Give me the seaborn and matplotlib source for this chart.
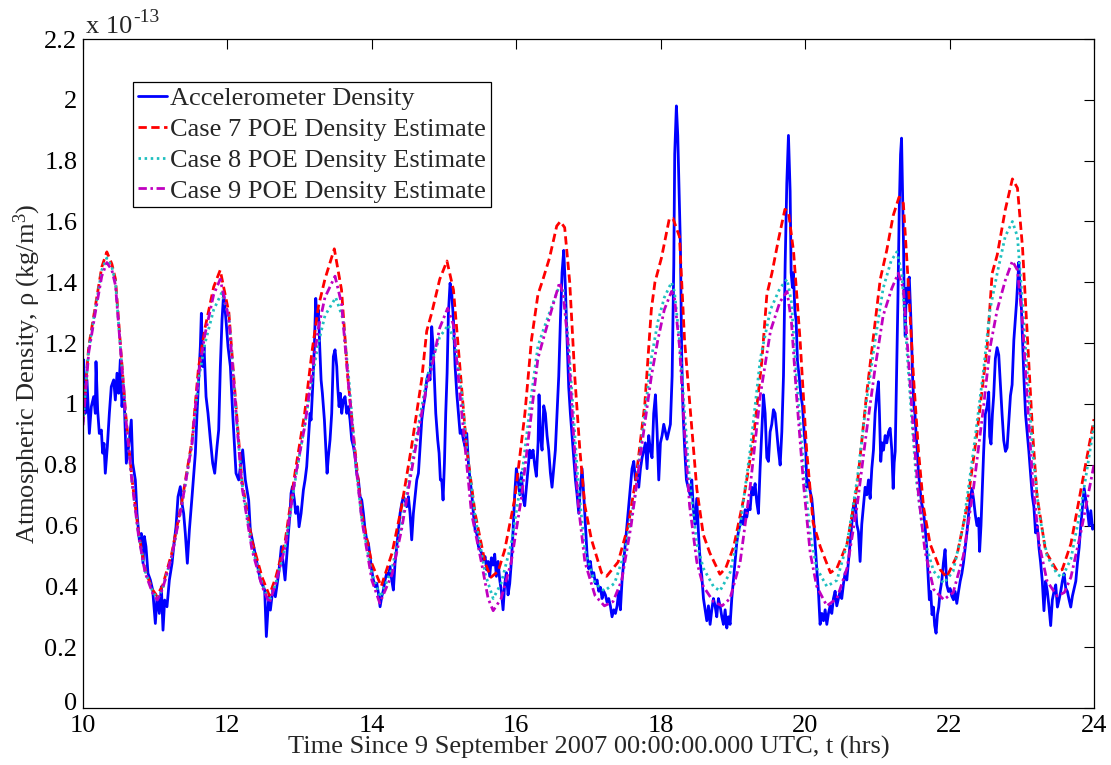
import matplotlib
matplotlib.use("Agg")
import matplotlib.pyplot as plt
import matplotlib.transforms as mtransforms
import pandas as pd
import seaborn as sns
from matplotlib.ticker import FuncFormatter

# Density values are in units of 1e-13 kg/m^3, time in hours since 9 Sep 2007 00:00 UTC.

# Accelerometer-derived density (time, density)
accel_pts = [
    (10.000, 1.06), (10.009, 1.145), (10.032, 0.969), (10.055, 1.079), (10.088, 0.903),
    (10.115, 0.991), (10.148, 1.024), (10.171, 0.969), (10.180, 1.139), (10.203, 0.98),
    (10.226, 0.903), (10.254, 0.914), (10.272, 0.838), (10.291, 0.87), (10.309, 0.772),
    (10.337, 0.86), (10.365, 0.969), (10.392, 1.057), (10.425, 1.079), (10.448, 1.013),
    (10.471, 1.101), (10.494, 1.035), (10.517, 1.145), (10.540, 0.991), (10.563, 1.057),
    (10.577, 0.969), (10.600, 0.805), (10.632, 0.86), (10.669, 0.947), (10.688, 0.805),
    (10.725, 0.75), (10.748, 0.64), (10.780, 0.553), (10.808, 0.574), (10.831, 0.476),
    (10.850, 0.564), (10.872, 0.531), (10.900, 0.443), (10.933, 0.421), (10.965, 0.388),
    (11.002, 0.278), (11.025, 0.366), (11.057, 0.311), (11.085, 0.399), (11.108, 0.256),
    (11.131, 0.355), (11.163, 0.333), (11.196, 0.421), (11.233, 0.476), (11.256, 0.531),
    (11.288, 0.596), (11.316, 0.695), (11.348, 0.728), (11.371, 0.673), (11.394, 0.64),
    (11.417, 0.574), (11.445, 0.476), (11.473, 0.585), (11.510, 0.695), (11.556, 0.838),
    (11.579, 0.969), (11.602, 1.079), (11.625, 1.189), (11.639, 1.298), (11.657, 1.123),
    (11.676, 1.189), (11.704, 1.024), (11.731, 0.969), (11.764, 0.882), (11.796, 0.805),
    (11.824, 0.772), (11.856, 0.86), (11.879, 0.914), (11.902, 1.123), (11.925, 1.276),
    (11.948, 1.364), (11.980, 1.276), (12.008, 1.189), (12.041, 1.123), (12.073, 0.969),
    (12.119, 0.772), (12.156, 0.75), (12.211, 0.849), (12.248, 0.75), (12.294, 0.684),
    (12.317, 0.585), (12.364, 0.531), (12.410, 0.476), (12.456, 0.421), (12.516, 0.388),
    (12.539, 0.235), (12.572, 0.366), (12.595, 0.322), (12.627, 0.388), (12.664, 0.366),
    (12.710, 0.443), (12.747, 0.531),
    (12.798, 0.421), (12.821, 0.498), (12.844, 0.574), (12.867, 0.64), (12.881, 0.706),
    (12.900, 0.728), (12.927, 0.684), (12.946, 0.64), (12.973, 0.662), (12.992, 0.596),
    (13.020, 0.64), (13.052, 0.717), (13.075, 0.75), (13.098, 0.794), (13.121, 0.882),
    (13.144, 0.969), (13.158, 0.947), (13.181, 1.057), (13.204, 1.189), (13.223, 1.347),
    (13.241, 1.276), (13.260, 1.309), (13.278, 1.189), (13.297, 1.079), (13.315, 1.035),
    (13.343, 0.947), (13.361, 0.86), (13.380, 0.772), (13.398, 0.827), (13.421, 0.882),
    (13.444, 0.969), (13.467, 1.156), (13.490, 1.178), (13.514, 1.123), (13.527, 1.057),
    (13.546, 0.991), (13.564, 1.035), (13.583, 0.969), (13.606, 1.013), (13.629, 1.024),
    (13.652, 0.969), (13.675, 0.991), (13.698, 0.947), (13.721, 0.882), (13.745, 0.86),
    (13.768, 0.827), (13.791, 0.772), (13.814, 0.75), (13.837, 0.695), (13.860, 0.684),
    (13.883, 0.64), (13.906, 0.585), (13.929, 0.553), (13.952, 0.542), (13.975, 0.498),
    (13.998, 0.454), (14.021, 0.421), (14.045, 0.399), (14.068, 0.41), (14.091, 0.377),
    (14.114, 0.333), (14.137, 0.366), (14.160, 0.388), (14.183, 0.421), (14.206, 0.443),
    (14.229, 0.432), (14.252, 0.465), (14.275, 0.421), (14.298, 0.388), (14.321, 0.476),
    (14.345, 0.531), (14.368, 0.585), (14.391, 0.64), (14.414, 0.673), (14.437, 0.695),
    (14.460, 0.684), (14.483, 0.662), (14.506, 0.695), (14.529, 0.64), (14.552, 0.553),
    (14.575, 0.64), (14.598, 0.695), (14.622, 0.75), (14.645, 0.772), (14.668, 0.86),
    (14.691, 0.947), (14.714, 0.991), (14.737, 1.024), (14.760, 1.079), (14.783, 1.101),
    (14.806, 1.079), (14.829, 1.254), (14.848, 1.189), (14.866, 1.079), (14.885, 0.969),
    (14.912, 0.882), (14.931, 0.838), (14.949, 0.75), (14.968, 0.75), (14.986, 0.684),
    (15.005, 0.805), (15.023, 0.969), (15.042, 1.101), (15.060, 1.298), (15.083, 1.397),
    (15.106, 1.364), (15.130, 1.276), (15.153, 1.123), (15.176, 1.035), (15.199, 0.969),
    (15.222, 0.903), (15.245, 0.914), (15.268, 0.882), (15.291, 0.86), (15.314, 0.903),
    (15.337, 0.805), (15.360, 0.75), (15.383, 0.706), (15.406, 0.64), (15.430, 0.585),
    (15.453, 0.574), (15.476, 0.531), (15.499, 0.52), (15.522, 0.509), (15.545, 0.487),
    (15.568, 0.498), (15.591, 0.454),
    (15.609, 0.482), (15.632, 0.433), (15.655, 0.494), (15.678, 0.47), (15.701, 0.506),
    (15.724, 0.433), (15.748, 0.482), (15.771, 0.421), (15.794, 0.384), (15.817, 0.323),
    (15.840, 0.409), (15.863, 0.445), (15.886, 0.372), (15.909, 0.409), (15.932, 0.482),
    (15.955, 0.58), (15.978, 0.701), (16.001, 0.787), (16.025, 0.75), (16.048, 0.701),
    (16.071, 0.774), (16.094, 0.689), (16.117, 0.665), (16.140, 0.726), (16.163, 0.787),
    (16.186, 0.848), (16.209, 0.823), (16.232, 0.848), (16.255, 0.799), (16.278, 0.762),
    (16.302, 0.872), (16.315, 1.03), (16.334, 0.896), (16.357, 0.848), (16.380, 0.994),
    (16.403, 0.969), (16.426, 0.896), (16.449, 0.848), (16.472, 0.774), (16.495, 0.726),
    (16.518, 0.787), (16.541, 0.848), (16.565, 0.969), (16.588, 1.091), (16.611, 1.274),
    (16.634, 1.432), (16.657, 1.505), (16.680, 1.383), (16.703, 1.213), (16.726, 1.055),
    (16.749, 0.969), (16.772, 0.896), (16.796, 0.823), (16.819, 0.75), (16.842, 0.701),
    (16.865, 0.64), (16.888, 0.726), (16.911, 0.787), (16.934, 0.701), (16.957, 0.604),
    (16.980, 0.506), (17.003, 0.458), (17.026, 0.482), (17.049, 0.433), (17.073, 0.445),
    (17.096, 0.409), (17.119, 0.421), (17.142, 0.384), (17.165, 0.397), (17.188, 0.36),
    (17.211, 0.384), (17.234, 0.372), (17.257, 0.348), (17.280, 0.36), (17.303, 0.336),
    (17.326, 0.30), (17.350, 0.323), (17.373, 0.311), (17.396, 0.336), (17.419, 0.384),
    (17.442, 0.323), (17.465, 0.421), (17.488, 0.482), (17.511, 0.543), (17.534, 0.604),
    (17.557, 0.665), (17.580, 0.726), (17.603, 0.787), (17.627, 0.811), (17.650, 0.75),
    (17.673, 0.774), (17.696, 0.726), (17.719, 0.787), (17.742, 0.823), (17.765, 0.848),
    (17.788, 0.872), (17.811, 0.787), (17.834, 0.896), (17.857, 0.848), (17.880, 0.823),
    (17.903, 0.969), (17.927, 1.03), (17.950, 0.908), (17.973, 0.75), (17.996, 0.872),
    (18.019, 0.896), (18.042, 0.933), (18.065, 0.908), (18.088, 0.884), (18.111, 0.908),
    (18.134, 0.933), (18.158, 1.091), (18.181, 1.457), (18.194, 1.822), (18.217, 1.98),
    (18.236, 1.883), (18.254, 1.70), (18.273, 1.517), (18.291, 1.152), (18.310, 0.969),
    (18.333, 0.848), (18.356, 0.75), (18.379, 0.726),
    (18.407, 0.701), (18.430, 0.75), (18.453, 0.652), (18.476, 0.604), (18.499, 0.689),
    (18.522, 0.58), (18.546, 0.482), (18.569, 0.433), (18.592, 0.36), (18.615, 0.323),
    (18.638, 0.287), (18.661, 0.336), (18.684, 0.275), (18.707, 0.323), (18.730, 0.36),
    (18.753, 0.336), (18.776, 0.30), (18.799, 0.36), (18.822, 0.336), (18.846, 0.30),
    (18.869, 0.275), (18.892, 0.323), (18.915, 0.263), (18.938, 0.30), (18.961, 0.275),
    (18.984, 0.36), (19.007, 0.421), (19.030, 0.482), (19.053, 0.543), (19.076, 0.58),
    (19.100, 0.604), (19.123, 0.628), (19.146, 0.604), (19.169, 0.652), (19.192, 0.628),
    (19.215, 0.665), (19.238, 0.652), (19.261, 0.726), (19.284, 0.701), (19.307, 0.738),
    (19.330, 0.677), (19.353, 0.64), (19.376, 0.787), (19.400, 0.908), (19.423, 1.03),
    (19.446, 0.969), (19.469, 0.823), (19.492, 0.811), (19.515, 0.908), (19.538, 0.933),
    (19.561, 0.981), (19.584, 0.969), (19.607, 0.908), (19.630, 0.848), (19.654, 0.799),
    (19.677, 0.908), (19.700, 1.091), (19.723, 1.457), (19.746, 1.725), (19.769, 1.883),
    (19.792, 1.70), (19.806, 1.432), (19.824, 1.383), (19.838, 1.432), (19.857, 1.31),
    (19.875, 1.274), (19.894, 1.14), (19.917, 1.091), (19.940, 1.03), (19.963, 0.994),
    (19.986, 0.908), (20.009, 0.848), (20.023, 0.726), (20.046, 0.75), (20.069, 0.713),
    (20.092, 0.689), (20.115, 0.628), (20.138, 0.543), (20.161, 0.458), (20.184, 0.384),
    (20.207, 0.275), (20.231, 0.311), (20.254, 0.287), (20.277, 0.323), (20.300, 0.275),
    (20.323, 0.311), (20.346, 0.336), (20.369, 0.311), (20.392, 0.36), (20.415, 0.384),
    (20.438, 0.336), (20.461, 0.36), (20.484, 0.384), (20.507, 0.36), (20.531, 0.409),
    (20.554, 0.445), (20.577, 0.421), (20.600, 0.482), (20.623, 0.543), (20.646, 0.604),
    (20.669, 0.665), (20.692, 0.689), (20.715, 0.604), (20.738, 0.58), (20.761, 0.482),
    (20.784, 0.604), (20.808, 0.665), (20.831, 0.726), (20.854, 0.701), (20.877, 0.75),
    (20.900, 0.689), (20.923, 0.787), (20.946, 0.848), (20.969, 0.969), (20.992, 1.03),
    (21.015, 1.073), (21.029, 0.969), (21.047, 0.811), (21.066, 0.872), (21.085, 0.848),
    (21.108, 0.896), (21.131, 0.872), (21.154, 0.908), (21.177, 0.92), (21.200, 0.848),
    (21.219, 0.722), (21.233, 0.807), (21.247, 0.844), (21.265, 1.088), (21.284, 1.332),
    (21.303, 1.637), (21.321, 1.82), (21.335, 1.874), (21.349, 1.698), (21.363, 1.515),
    (21.372, 1.332), (21.386, 1.222), (21.400, 1.38), (21.414, 1.332), (21.428, 1.405),
    (21.442, 1.417), (21.460, 1.307), (21.474, 1.21), (21.488, 1.088), (21.507, 0.99),
    (21.521, 0.966), (21.535, 0.905), (21.553, 0.844), (21.567, 0.783), (21.590, 0.722),
    (21.613, 0.673), (21.637, 0.649), (21.660, 0.6), (21.683, 0.527), (21.706, 0.417),
    (21.720, 0.356), (21.739, 0.383), (21.757, 0.307), (21.776, 0.332), (21.794, 0.271),
    (21.813, 0.246), (21.832, 0.307), (21.850, 0.332), (21.869, 0.383), (21.892, 0.417),
    (21.915, 0.478), (21.938, 0.521), (21.961, 0.405), (21.985, 0.383), (22.008, 0.393),
    (22.031, 0.368), (22.054, 0.356), (22.077, 0.383), (22.100, 0.344), (22.124, 0.383),
    (22.147, 0.417), (22.170, 0.442), (22.193, 0.478), (22.217, 0.527), (22.240, 0.576),
    (22.263, 0.636), (22.286, 0.685), (22.310, 0.722), (22.333, 0.685), (22.356, 0.636),
    (22.379, 0.6), (22.402, 0.624), (22.416, 0.515), (22.435, 0.6), (22.453, 0.722),
    (22.472, 0.844), (22.495, 0.966), (22.518, 0.99), (22.542, 1.039), (22.555, 0.893),
    (22.574, 0.868), (22.593, 0.966), (22.611, 1.027), (22.634, 1.149), (22.658, 1.185),
    (22.681, 1.161), (22.704, 1.063), (22.727, 0.966), (22.750, 0.88), (22.774, 0.844),
    (22.797, 0.856), (22.820, 0.941), (22.843, 1.027), (22.866, 1.063), (22.890, 1.21),
    (22.913, 1.283), (22.927, 1.332), (22.945, 1.405), (22.959, 1.466), (22.973, 1.393),
    (22.992, 1.332), (23.010, 1.21), (23.029, 1.088), (23.052, 0.966), (23.075, 0.905),
    (23.098, 0.844), (23.122, 0.771), (23.145, 0.698), (23.168, 0.661), (23.191, 0.576),
    (23.214, 0.6), (23.238, 0.527), (23.261, 0.478), (23.284, 0.417), (23.307, 0.32),
    (23.330, 0.417), (23.354, 0.383), (23.377, 0.332), (23.400, 0.271), (23.423, 0.356),
    (23.446, 0.383), (23.470, 0.405), (23.493, 0.332), (23.516, 0.356), (23.539, 0.383),
    (23.562, 0.417), (23.586, 0.442), (23.609, 0.393), (23.632, 0.383), (23.655, 0.356),
    (23.678, 0.332), (23.701, 0.368), (23.725, 0.393), (23.748, 0.417), (23.771, 0.478),
    (23.794, 0.527), (23.817, 0.6), (23.840, 0.661), (23.864, 0.722), (23.887, 0.685),
    (23.910, 0.649), (23.933, 0.6), (23.956, 0.649), (23.980, 0.588), (24.000, 0.6),
]

# POE density estimates (time, density)
case7_pts = [
    (10.00, 0.95), (10.08, 1.19), (10.17, 1.32), (10.26, 1.45), (10.33, 1.50), (10.40, 1.46),
    (10.45, 1.41), (10.52, 1.19), (10.59, 0.97), (10.68, 0.75), (10.77, 0.575), (10.86, 0.454),
    (10.96, 0.39), (11.02, 0.37), (11.10, 0.40), (11.23, 0.51), (11.37, 0.68), (11.51, 0.88),
    (11.60, 1.12), (11.69, 1.25), (11.81, 1.385), (11.90, 1.44), (12.02, 1.30), (12.11, 1.02),
    (12.20, 0.75), (12.34, 0.55), (12.48, 0.43), (12.58, 0.37), (12.67, 0.43), (12.80, 0.55),
    (12.94, 0.78), (13.07, 0.97), (13.17, 1.17), (13.26, 1.32), (13.35, 1.41), (13.48, 1.51),
    (13.58, 1.375), (13.67, 1.08), (13.77, 0.84), (13.86, 0.64), (14.00, 0.475), (14.13, 0.40),
    (14.28, 0.51), (14.41, 0.66), (14.55, 0.86), (14.69, 1.08), (14.76, 1.24), (14.83, 1.30),
    (14.94, 1.41), (15.04, 1.47), (15.13, 1.375), (15.22, 1.12), (15.31, 0.86), (15.43, 0.64),
    (15.57, 0.475), (15.65, 0.43), (15.75, 0.45), (15.84, 0.52), (15.98, 0.69), (16.12, 0.97),
    (16.21, 1.21), (16.30, 1.36), (16.37, 1.41), (16.46, 1.48), (16.56, 1.585), (16.61, 1.60),
    (16.67, 1.58), (16.74, 1.40), (16.81, 1.09), (16.88, 0.85), (16.95, 0.665), (17.04, 0.555),
    (17.18, 0.445), (17.25, 0.433), (17.41, 0.48), (17.55, 0.60), (17.66, 0.76), (17.78, 1.00),
    (17.87, 1.31), (17.92, 1.40), (18.01, 1.48), (18.12, 1.61), (18.17, 1.61), (18.26, 1.55),
    (18.33, 1.21), (18.41, 0.98), (18.50, 0.72), (18.59, 0.57), (18.68, 0.51), (18.82, 0.44),
    (18.90, 0.46), (19.01, 0.53), (19.15, 0.69), (19.28, 0.88), (19.40, 1.14), (19.47, 1.36),
    (19.54, 1.43), (19.63, 1.54), (19.72, 1.64), (19.77, 1.63), (19.84, 1.50), (19.93, 1.21),
    (20.02, 0.85), (20.11, 0.61), (20.21, 0.53), (20.35, 0.445), (20.44, 0.46), (20.58, 0.54),
    (20.72, 0.73), (20.85, 1.03), (20.99, 1.31), (21.04, 1.41), (21.13, 1.505), (21.22, 1.62),
    (21.30, 1.68), (21.36, 1.66), (21.43, 1.39), (21.50, 1.09), (21.57, 0.844), (21.64, 0.66),
    (21.73, 0.54), (21.87, 0.455), (21.96, 0.43), (22.10, 0.50), (22.24, 0.66), (22.38, 0.905),
    (22.52, 1.185), (22.59, 1.43), (22.66, 1.49), (22.77, 1.637), (22.87, 1.74), (22.94, 1.71),
    (23.01, 1.515), (23.08, 1.21), (23.15, 0.905), (23.21, 0.70), (23.33, 0.515), (23.49, 0.45),
    (23.56, 0.455), (23.68, 0.54), (23.82, 0.72), (24.00, 0.95),
]

case8_pts = [
    (10.00, 0.94), (10.08, 1.18), (10.17, 1.31), (10.26, 1.44), (10.33, 1.48), (10.40, 1.45),
    (10.45, 1.40), (10.52, 1.18), (10.59, 0.96), (10.68, 0.74), (10.77, 0.57), (10.86, 0.45),
    (10.96, 0.385), (11.03, 0.36), (11.10, 0.39), (11.23, 0.50), (11.37, 0.67), (11.51, 0.87),
    (11.60, 1.08), (11.69, 1.20), (11.81, 1.31), (11.92, 1.365), (12.02, 1.29), (12.11, 1.00),
    (12.20, 0.74), (12.34, 0.53), (12.48, 0.41), (12.58, 0.35), (12.67, 0.41), (12.80, 0.53),
    (12.94, 0.75), (13.07, 0.93), (13.17, 1.08), (13.26, 1.20), (13.35, 1.29), (13.50, 1.35),
    (13.60, 1.28), (13.69, 1.06), (13.77, 0.82), (13.86, 0.62), (14.00, 0.44), (14.12, 0.365),
    (14.28, 0.46), (14.41, 0.60), (14.55, 0.80), (14.69, 0.99), (14.76, 1.08), (14.83, 1.14),
    (14.94, 1.22), (15.06, 1.26), (15.15, 1.20), (15.24, 1.04), (15.31, 0.86), (15.43, 0.63),
    (15.57, 0.44), (15.68, 0.36), (15.79, 0.41), (15.93, 0.54), (16.07, 0.75), (16.21, 1.03),
    (16.30, 1.19), (16.37, 1.24), (16.49, 1.32), (16.60, 1.39), (16.65, 1.38), (16.72, 1.21),
    (16.79, 0.97), (16.86, 0.73), (16.95, 0.52), (17.09, 0.41), (17.22, 0.385), (17.36, 0.41),
    (17.50, 0.51), (17.64, 0.69), (17.78, 0.97), (17.87, 1.15), (17.96, 1.27), (18.05, 1.35),
    (18.15, 1.40), (18.19, 1.37), (18.26, 1.21), (18.33, 0.97), (18.40, 0.75), (18.50, 0.54),
    (18.59, 0.46), (18.73, 0.40), (18.82, 0.385), (18.96, 0.445), (19.10, 0.60), (19.24, 0.85),
    (19.38, 1.15), (19.52, 1.31), (19.65, 1.38), (19.75, 1.41), (19.81, 1.335), (19.88, 1.09),
    (19.98, 0.79), (20.07, 0.57), (20.16, 0.46), (20.30, 0.40), (20.44, 0.42), (20.58, 0.54),
    (20.72, 0.75), (20.85, 1.01), (20.97, 1.21), (21.08, 1.38), (21.19, 1.47), (21.27, 1.50),
    (21.34, 1.43), (21.40, 1.21), (21.47, 0.97), (21.54, 0.75), (21.64, 0.56), (21.78, 0.45),
    (21.92, 0.41), (22.05, 0.45), (22.19, 0.60), (22.33, 0.844), (22.47, 1.11), (22.56, 1.31),
    (22.66, 1.43), (22.77, 1.55), (22.87, 1.60), (22.94, 1.55), (23.01, 1.33), (23.08, 1.09),
    (23.15, 0.844), (23.24, 0.64), (23.35, 0.50), (23.49, 0.44), (23.56, 0.43), (23.68, 0.49),
    (23.82, 0.66), (24.00, 0.93),
]

case9_pts = [
    (10.00, 0.93), (10.08, 1.17), (10.17, 1.30), (10.26, 1.42), (10.33, 1.465), (10.40, 1.44),
    (10.45, 1.39), (10.52, 1.18), (10.59, 0.96), (10.68, 0.74), (10.77, 0.565), (10.86, 0.445),
    (10.96, 0.38), (11.03, 0.355), (11.10, 0.39), (11.23, 0.50), (11.37, 0.67), (11.51, 0.87),
    (11.60, 1.10), (11.69, 1.23), (11.81, 1.36), (11.90, 1.41), (12.02, 1.28), (12.11, 1.00),
    (12.20, 0.73), (12.34, 0.52), (12.48, 0.40), (12.58, 0.345), (12.67, 0.41), (12.80, 0.53),
    (12.94, 0.76), (13.07, 0.925), (13.17, 1.10), (13.26, 1.25), (13.35, 1.35), (13.49, 1.42),
    (13.58, 1.33), (13.67, 1.08), (13.77, 0.82), (13.86, 0.62), (14.00, 0.42), (14.11, 0.345),
    (14.28, 0.44), (14.41, 0.585), (14.55, 0.78), (14.69, 0.97), (14.76, 1.06), (14.83, 1.12),
    (14.94, 1.25), (15.05, 1.315), (15.13, 1.26), (15.20, 1.08), (15.29, 0.86), (15.38, 0.64),
    (15.52, 0.476), (15.61, 0.36), (15.68, 0.32), (15.79, 0.36), (15.93, 0.48), (16.07, 0.69),
    (16.21, 0.97), (16.30, 1.15), (16.37, 1.21), (16.49, 1.31), (16.60, 1.40), (16.65, 1.36),
    (16.72, 1.19), (16.79, 0.91), (16.86, 0.665), (16.95, 0.48), (17.09, 0.37), (17.22, 0.336),
    (17.34, 0.35), (17.46, 0.42), (17.59, 0.60), (17.73, 0.85), (17.87, 1.09), (17.96, 1.21),
    (18.05, 1.31), (18.15, 1.37), (18.19, 1.35), (18.26, 1.19), (18.33, 0.91), (18.40, 0.665),
    (18.50, 0.48), (18.59, 0.40), (18.73, 0.35), (18.85, 0.336), (18.96, 0.36), (19.10, 0.48),
    (19.24, 0.73), (19.38, 1.03), (19.52, 1.24), (19.65, 1.335), (19.75, 1.37), (19.81, 1.27),
    (19.88, 1.03), (19.98, 0.73), (20.07, 0.51), (20.16, 0.40), (20.30, 0.336), (20.44, 0.36),
    (20.58, 0.46), (20.72, 0.665), (20.85, 0.91), (20.97, 1.12), (21.08, 1.29), (21.20, 1.38),
    (21.29, 1.43), (21.36, 1.38), (21.43, 1.15), (21.50, 0.905), (21.57, 0.70), (21.66, 0.515),
    (21.78, 0.39), (21.92, 0.356), (22.05, 0.38), (22.19, 0.50), (22.33, 0.72), (22.47, 0.99),
    (22.56, 1.185), (22.66, 1.31), (22.77, 1.405), (22.87, 1.47), (22.94, 1.44), (23.01, 1.27),
    (23.08, 1.00), (23.15, 0.75), (23.24, 0.54), (23.35, 0.417), (23.49, 0.368), (23.59, 0.38),
    (23.68, 0.43), (23.82, 0.58), (24.00, 0.80),
]

series_names = [
    "Accelerometer Density",
    "Case 7 POE Density Estimate",
    "Case 8 POE Density Estimate",
    "Case 9 POE Density Estimate",
]
x_ticks = [10, 12, 14, 16, 18, 20, 22, 24]
y_ticks = [0, 0.2, 0.4, 0.6, 0.8, 1.0, 1.2, 1.4, 1.6, 1.8, 2.0, 2.2]
x_label = "Time Since 9 September 2007 00:00:00.000 UTC, t (hrs)"
y_label = r"Atmospheric Density, ρ (kg/m$^3$)"
scale_base = "x 10"
scale_exp = "-13"

# ---- styling ----
sns.set_style("white")
plt.rcParams["font.family"] = ["Liberation Serif", "DejaVu Serif"]
plt.rcParams["mathtext.fontset"] = "custom"
plt.rcParams["mathtext.rm"] = "Liberation Serif"
plt.rcParams["mathtext.it"] = "Liberation Serif:italic"

FS = 19

colors = {
    series_names[0]: "#0000ff",
    series_names[1]: "#ff0000",
    series_names[2]: "#1fc0c0",
    series_names[3]: "#c000c0",
}
dashes = {
    series_names[0]: "",
    series_names[1]: (3.0, 1.6),
    series_names[2]: (0.9, 1.3),
    series_names[3]: (3.0, 1.3, 0.9, 1.3),
}

frames = []
for name, pts in zip(series_names, [accel_pts, case7_pts, case8_pts, case9_pts]):
    t, rho = zip(*pts)
    frames.append(pd.DataFrame({"t": t, "rho": rho, "series": name}))
df = pd.concat(frames, ignore_index=True)

fig = plt.figure(figsize=(11.11, 7.65), dpi=100)
ax = fig.add_axes([0.0747, 0.0745, 0.9100, 0.8745])

sns.lineplot(
    data=df, x="t", y="rho", hue="series", style="series",
    hue_order=series_names, style_order=series_names,
    palette=colors, dashes=dashes, estimator=None, sort=False,
    linewidth=2.0, legend=False, ax=ax,
)

ax.set_xlim(10, 24)
ax.set_ylim(0, 2.2)
ax.set_xticks(x_ticks)
ax.set_yticks(y_ticks)
ax.yaxis.set_major_formatter(FuncFormatter(lambda v, _: f"{v:g}"))
ax.tick_params(direction="in", length=7, width=0.8, top=True, right=True,
               labelsize=FS, colors="black", pad=4)
ax.tick_params(axis="x", pad=5)
for side in ax.spines.values():
    side.set_color("black")
    side.set_linewidth(0.9)

ax.set_xlabel(x_label, fontsize=FS, labelpad=-1)
ax.set_ylabel(y_label, fontsize=FS, labelpad=1)

# exponent note above the y axis
base = ax.annotate(scale_base, xy=(0, 1), xycoords="axes fraction",
                   xytext=(2, 1), textcoords="offset points",
                   ha="left", va="bottom", fontsize=FS)
ax.annotate(scale_exp, xy=(1, 0.55), xycoords=base,
            xytext=(1, 0), textcoords="offset points",
            ha="left", va="bottom", fontsize=14)

handles = ax.get_lines()[:4]
leg = ax.legend(handles, series_names, loc="upper left", bbox_to_anchor=(0.0495, 0.936),
                borderaxespad=0, frameon=True, fancybox=False, edgecolor="black",
                framealpha=1, fontsize=FS, handlelength=1.1, handletextpad=0.12,
                borderpad=0.18, labelspacing=0.28)
leg.get_frame().set_linewidth(0.9)

# lift the "0" label on the y axis a little so it clears the "10" below it
zero_label = ax.yaxis.get_major_ticks()[0].label1
zero_label.set_transform(zero_label.get_transform()
                         + mtransforms.ScaledTranslation(0, 5 / 72, fig.dpi_scale_trans))

fig.savefig("out.png", dpi=100)
